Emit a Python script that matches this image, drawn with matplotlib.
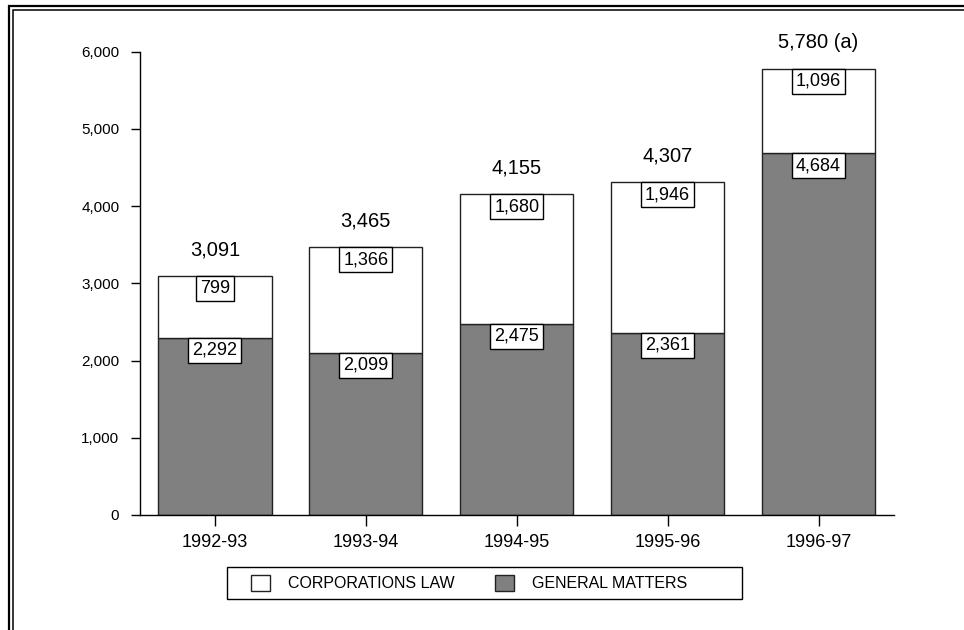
import matplotlib.pyplot as plt
from matplotlib.patches import Rectangle, Patch
from matplotlib.ticker import FuncFormatter

plt.rcParams['font.family'] = ['Liberation Sans', 'DejaVu Sans']

# data
years = ['1992-93', '1993-94', '1994-95', '1995-96', '1996-97']
general = [2292, 2099, 2475, 2361, 4684]
corporations = [799, 1366, 1680, 1946, 1096]
totals = [3091, 3465, 4155, 4307, 5780]
total_labels = ['3,091', '3,465', '4,155', '4,307', '5,780 (a)']

W, H = 964, 630
fig = plt.figure(figsize=(W / 100, H / 100), dpi=100)
ax = fig.add_axes([139.5 / W, 1 - 515 / H, (894 - 139.5) / W, (515 - 51.7) / H])

x = range(len(years))
ax.bar(x, general, width=0.75, color='#808080', edgecolor='#222222', linewidth=1)
ax.bar(x, corporations, bottom=general, width=0.75, color='white',
       edgecolor='#222222', linewidth=1)

box = dict(boxstyle='square,pad=0.22', facecolor='white', edgecolor='black', linewidth=1)
for i in x:
    ax.annotate(f'{general[i]:,}', (i, general[i]), xytext=(0, -0.22 * 13),
                textcoords='offset points', ha='center', va='top', fontsize=13, bbox=box)
    ax.annotate(f'{corporations[i]:,}', (i, totals[i]), xytext=(0, -0.22 * 13),
                textcoords='offset points', ha='center', va='top', fontsize=13, bbox=box)
    ax.annotate(total_labels[i], (i, totals[i]), xytext=(0, 15),
                textcoords='offset points', ha='center', va='baseline', fontsize=14.5)

ax.set_xlim(-0.5, len(years) - 0.5)
ax.set_ylim(0, 6000)
ax.set_yticks(range(0, 6001, 1000))
ax.yaxis.set_major_formatter(FuncFormatter(lambda v, p: f'{int(v):,}'))
ax.set_xticks(list(x))
ax.set_xticklabels(years)
ax.tick_params(axis='y', length=6.5, width=1, pad=8, labelsize=11)
ax.tick_params(axis='x', length=8, width=1, pad=5.5, labelsize=13)
for s in ['top', 'right']:
    ax.spines[s].set_visible(False)
for s in ['left', 'bottom']:
    ax.spines[s].set_linewidth(1)

# legend: content from matplotlib, frame drawn separately
handles = [Patch(facecolor='white', edgecolor='#222222', label='CORPORATIONS LAW'),
           Patch(facecolor='#808080', edgecolor='#222222', label='GENERAL MATTERS')]
fig.legend(handles=handles, ncol=2, frameon=False, fontsize=11.5,
           loc='center left', bbox_to_anchor=(251 / W, 1 - 583 / H),
           borderpad=0, borderaxespad=0, handlelength=1.2, handleheight=1.13,
           handletextpad=1.1, columnspacing=2.54)
fig.add_artist(Rectangle((227 / W, 1 - 599 / H), (742 - 227) / W, 32 / H,
                         transform=fig.transFigure, fill=False, edgecolor='black', linewidth=1))

# double border (right and bottom run off the picture)
fig.add_artist(Rectangle((9 / W, -0.2), 1.5, 1.2 - 5.7 / H, transform=fig.transFigure,
                         fill=False, edgecolor='black', linewidth=1.6))
fig.add_artist(Rectangle((12.7 / W, -0.2), 1.5, 1.2 - 10 / H, transform=fig.transFigure,
                         fill=False, edgecolor='black', linewidth=1.1))

plt.savefig('out.png', dpi=100)
